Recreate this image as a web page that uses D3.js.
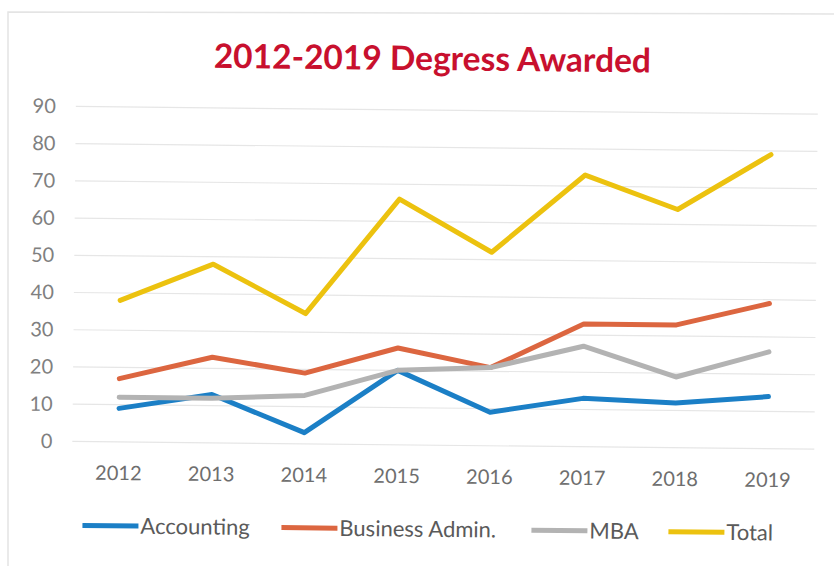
<!DOCTYPE html>
<html>
<head>
<meta charset="utf-8">
<script src="https://cdn.jsdelivr.net/npm/d3@7"></script>
<style>
  html, body { margin: 0; padding: 0; background: #fff; }
  svg { display: block; }
</style>
</head>
<body>
<svg id="chart" width="834" height="569"></svg>
<script>
const years = ["2012", "2013", "2014", "2015", "2016", "2017", "2018", "2019"];
const accounting = [9, 13, 3, 20, 9, 13, 12, 14];
const businessAdmin = [17, 23, 19, 26, 21, 33, 33, 39];
const mba = [12, 12, 13, 20, 21, 27, 19, 26];
const total = [38, 48, 35, 66, 52, 73, 64, 79];
const yTicks = [0, 10, 20, 30, 40, 50, 60, 70, 80, 90];
const seriesNames = ["Accounting", "Business Admin.", "MBA", "Total"];
const seriesColors = ["#1b7fc6", "#dc6640", "#b3b3b3", "#ecc20f"];

const series = [accounting, businessAdmin, mba, total].map((values, i) => ({
  name: seriesNames[i], color: seriesColors[i], values
}));

const svg = d3.select("#chart");
const font = "Lato, 'Open Sans', 'Liberation Sans', sans-serif";

// faint scan frame
svg.append("path")
  .attr("d", "M8,566 L8,12 L834,14")
  .attr("fill", "none").attr("stroke", "#e4e4e4").attr("stroke-width", 1.5);

// whole scanned page is slightly rotated
const root = svg.append("g").attr("transform", "rotate(0.6,417,284)");

const x = d3.scaleBand().domain(years).range([74, 816]).padding(0);
const y = d3.scaleLinear().domain([0, 90]).range([445, 110]);

// title
root.append("text")
  .attr("x", 430).attr("y", 70)
  .attr("text-anchor", "middle")
  .attr("font-family", font).attr("font-weight", 700)
  .attr("font-size", 33.5).attr("fill", "#c8102e")
  .text("2012-2019 Degress Awarded");

// gridlines
root.append("g").selectAll("line").data(yTicks).join("line")
  .attr("x1", 74).attr("x2", 816)
  .attr("y1", d => y(d)).attr("y2", d => y(d))
  .attr("stroke", "#e6e6e6").attr("stroke-width", 1.2);

// y axis labels
const yAxis = d3.axisLeft(y).tickValues(yTicks).tickSize(0).tickPadding(0);
const gy = root.append("g").attr("transform", "translate(54,0)").call(yAxis);
gy.select(".domain").remove();
gy.selectAll("text")
  .attr("font-family", font).attr("font-size", 20).attr("fill", "#808080");

// x axis labels
const xAxis = d3.axisBottom(x).tickSize(0).tickPadding(0);
const gx = root.append("g").attr("transform", "translate(0,469)").call(xAxis);
gx.select(".domain").remove();
gx.selectAll("text")
  .attr("font-family", font).attr("font-size", 20).attr("fill", "#6e6e6e");

// lines
const line = d3.line()
  .x((d, i) => x(years[i]) + x.bandwidth() / 2)
  .y(d => y(d));

root.append("g").selectAll("path").data(series).join("path")
  .attr("d", d => line(d.values))
  .attr("fill", "none")
  .attr("stroke", d => d.color)
  .attr("stroke-width", 5)
  .attr("stroke-linejoin", "round")
  .attr("stroke-linecap", "round");

// legend
const legendX = [85, 284, 534, 671];
const lg = root.append("g").selectAll("g").data(series).join("g")
  .attr("transform", (d, i) => `translate(${legendX[i]},529)`);
lg.append("line")
  .attr("x1", 0).attr("x2", 56).attr("y1", 0).attr("y2", 0)
  .attr("stroke", d => d.color).attr("stroke-width", 5);
lg.append("text")
  .attr("x", 58).attr("y", 0).attr("dy", "0.35em")
  .attr("font-family", font).attr("font-size", 22).attr("fill", "#5a5a5a")
  .text(d => d.name);
</script>
</body>
</html>
